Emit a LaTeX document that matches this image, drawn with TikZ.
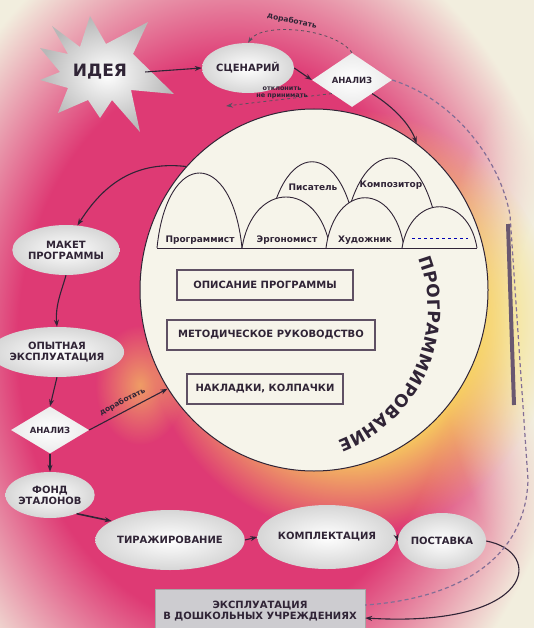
\documentclass[tikz,border=0pt]{standalone}
\usepackage{fontspec}
\setmainfont{DejaVu Sans}
\usetikzlibrary{shapes.geometric,arrows.meta,decorations.text,fadings}
\definecolor{cream}{RGB}{242,238,222}
\definecolor{mag}{RGB}{222,58,116}
\definecolor{ylw}{RGB}{250,222,92}
\definecolor{ink}{RGB}{48,36,54}
\definecolor{paper}{RGB}{246,244,234}
\definecolor{boxc}{RGB}{95,80,100}
\definecolor{boxgray}{RGB}{205,204,208}
\definecolor{barc}{RGB}{105,88,112}
\definecolor{dashc}{RGB}{130,110,150}
\pgfdeclareradialshading{magring}{\pgfpoint{0bp}{0bp}}{color(0bp)=(mag); color(16bp)=(mag); color(25bp)=(cream); color(50bp)=(cream)}
\pgfdeclareradialshading{softshade}{\pgfpoint{0bp}{0bp}}{color(0bp)=(white); color(14bp)=(white); color(25bp)=(black); color(50bp)=(black)}
\pgfdeclarefading{soft}{\pgfuseshading{softshade}}
\tikzfading[name=fadeout, inner color=transparent!0, outer color=transparent!100]
\begin{document}
\begin{tikzpicture}[x=1pt,y=1pt,
  arr/.style={-{Stealth[length=7pt,width=5pt]}, line width=1.1pt, draw=ink},
  dsh/.style={dashed, line width=0.8pt, draw=ink!80},
  lbl/.style={text=ink, font=\fontsize{10}{11}\bfseries\selectfont, align=center},
  oval/.style={ellipse, inner sep=0pt, inner color=white, outer color=black!16, lbl},
  dia/.style={diamond, inner sep=0pt, inner color=white, outer color=black!8, text=ink, font=\fontsize{8.5}{9}\bfseries\selectfont},
  pbox/.style={draw=boxc, line width=1.3pt, fill=paper, lbl, minimum height=30pt, inner sep=0pt},
  hillst/.style={draw=ink, line width=0.9pt, fill=paper},
  hilltxt/.style={font=\fontsize{9}{10}\bfseries\selectfont, text=ink},
  small/.style={font=\fontsize{7.5}{8}\bfseries\selectfont, text=ink}]
\useasboundingbox (0,0) rectangle (534,-628);
% background
\fill[cream] (0,0) rectangle (534,-628);
\shade[shading=magring] (235,-345) ellipse [x radius=340, y radius=440];
\fill[cream, path fading=soft] (610,-320) ellipse [x radius=170, y radius=300];
\fill[ylw, path fading=soft] (350,-322) ellipse [x radius=205, y radius=212];
\fill[ylw, path fading=fadeout, opacity=0.6] (140,-385) ellipse [x radius=45, y radius=60];
% idea star
\shade[inner color=white, outer color=black!28]
  (52,-26) -- (80,-47) -- (90,-16) -- (106,-44) -- (148,-22) -- (133,-54)
  -- (174,-94) -- (131,-90) -- (140,-132) -- (112,-100) -- (100,-118) -- (88,-100)
  -- (58,-113) -- (68,-88) -- (40,-80) -- (60,-72) -- (40,-48) -- (68,-54) -- cycle;
\node[text=ink, font=\fontsize{17}{18}\bfseries\selectfont, inner xsep=18pt] (idea) at (100,-72) {ИДЕЯ};
% top nodes
\node[oval, minimum width=92pt, minimum height=50pt] (scen) at (248,-68) {СЦЕНАРИЙ};
\node[dia, minimum width=80pt, minimum height=54pt] (an1) at (352,-80) {АНАЛИЗ};
% circle
\node[ellipse, minimum width=348pt, minimum height=362pt, inner sep=0pt, draw=ink, line width=1pt, fill=paper] (circ) at (314,-290) {};
% hills
\filldraw[hillst] (266,-248) .. controls (277,-133) and (347,-133) .. (358,-248);
\filldraw[hillst] (342,-248) .. controls (354,-128) and (428,-128) .. (440,-248);
\filldraw[hillst] (157,-248) .. controls (167,-148) and (232,-148) .. (242,-248);
\filldraw[hillst] (242,-248) .. controls (253,-180) and (319,-180) .. (330,-248);
\filldraw[hillst] (326,-248) .. controls (335,-181) and (395,-181) .. (404,-248);
\filldraw[hillst] (402,-248) .. controls (411,-193) and (468,-193) .. (477,-248);
\draw[ink, line width=0.9pt] (157,-248) -- (477,-248);
\draw[blue!70!black, dashed, line width=0.8pt] (412,-238) -- (468,-238);
\node[hilltxt] (h1) at (200,-240) {Программист};
\node[hilltxt] (h2) at (287,-240) {Эргономист};
\node[hilltxt] (h3) at (365,-240) {Художник};
\node[hilltxt] (h5) at (313,-187) {Писатель};
\node[hilltxt] (h6) at (391,-185) {Композитор};
% boxes in circle
\node[pbox, minimum width=176pt] (b1) at (265,-285) {ОПИСАНИЕ ПРОГРАММЫ};
\node[pbox, minimum width=208pt] (b2) at (271,-335) {МЕТОДИЧЕСКОЕ РУКОВОДСТВО};
\node[pbox, minimum width=156pt] (b3) at (265,-389) {НАКЛАДКИ, КОЛПАЧКИ};
% curved text
\path[decorate, decoration={text along path, text align=fit to path,
  text={|\fontsize{17}{17}\bfseries\color{ink}|ПРОГРАММИРОВАНИЕ}}]
  ([shift={(21:141)}]287,-309) arc[start angle=21, end angle=-69, radius=141];
% left column
\node[oval, minimum width=86pt, minimum height=50pt] (maket) at (66,-250) {МАКЕТ\\ПРОГРАММЫ};
\node[oval, minimum width=102pt, minimum height=50pt] (opyt) at (57,-352) {ОПЫТНАЯ\\ЭКСПЛУАТАЦИЯ};
\node[dia, minimum width=78pt, minimum height=46pt] (an2) at (50,-430) {АНАЛИЗ};
\node[oval, minimum width=82pt, minimum height=46pt] (fond) at (50,-495) {ФОНД\\ЭТАЛОНОВ};
% bottom row
\node[oval, minimum width=140pt, minimum height=60pt] (tir) at (170,-540) {ТИРАЖИРОВАНИЕ};
\node[oval, minimum width=110pt, minimum height=64pt] (kompl) at (327,-537) {КОМПЛЕКТАЦИЯ};
\node[oval, minimum width=80pt, minimum height=56pt] (post) at (442,-541) {ПОСТАВКА};
\node[draw=black!35, fill=boxgray, lbl, minimum width=210pt, minimum height=44pt, inner sep=0pt] (expl) at (260,-611) {ЭКСПЛУАТАЦИЯ\\В ДОШКОЛЬНЫХ УЧРЕЖДЕНИЯХ};
% connectors
\draw[arr] (idea.east) -- (scen.west);
\draw[arr] (scen.east) -- (an1.west);
\draw[dsh, -{Stealth[length=6pt,width=4pt]}] (an1.north) .. controls (335,-28) and (262,-22) .. (scen.north);
\node[small, rotate=-12] (lbl1) at (292,-21) {доработать};
\coordinate (reject) at (226,-106);
\draw[dsh, -{Stealth[length=7pt,width=5pt]}] (an1.south west) -- (reject);
\node[small, align=center, font=\fontsize{6.5}{7}\bfseries\selectfont] (lbl2) at (282,-93) {отклонить\\не принимать};
\draw[arr] (an1.south east) .. controls (395,-108) and (410,-125) .. (circ.55);
\draw[arr] (circ.136) .. controls (130,-160) and (100,-190) .. (maket.65);
\draw[arr] (maket.south) .. controls (62,-290) and (55,-305) .. (opyt.north);
\draw[arr] (opyt.south) -- (an2.north);
\draw[arr] (an2.east) -- node[small, sloped, above=2pt, pos=0.48] (lbl3) {доработать} (circ.214);
\draw[arr] (an2.south) -- (fond.north);
\draw[arr, line width=1.6pt] (fond.-35) -- (tir.162);
\draw[arr] (tir.east) -- (kompl.west);
\draw[arr] (kompl.east) -- (post.west);
\draw[arr] (post.east) .. controls (545,-552) and (535,-628) .. ([yshift=-7pt]expl.east);
\draw[dashc, line width=1.2pt, dash pattern=on 4pt off 3pt] (an1.east) .. controls (455,-100) and (500,-160) .. (510,-215)
  -- (528,-480) .. controls (525,-570) and (440,-600) .. ([yshift=6pt]expl.east);
\draw[barc, line width=4pt] (508,-224) -- (514,-405);
\end{tikzpicture}
\end{document}
